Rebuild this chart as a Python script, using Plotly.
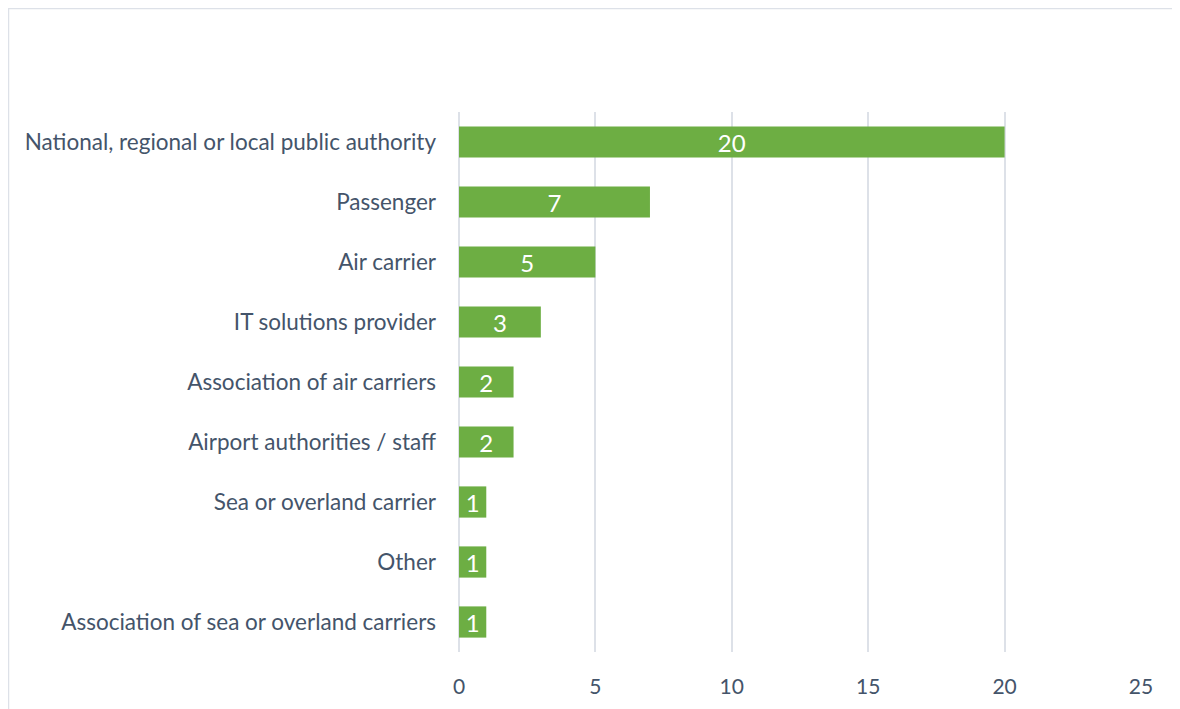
import plotly.graph_objects as go

categories = [
    "National, regional or local public authority",
    "Passenger",
    "Air carrier",
    "IT solutions provider",
    "Association of air carriers",
    "Airport authorities / staff",
    "Sea or overland carrier",
    "Other",
    "Association of sea or overland carriers",
]
values = [20, 7, 5, 3, 2, 2, 1, 1, 1]
x_ticks = [0, 5, 10, 15, 20, 25]

# page has an 8px body margin; figure is offset by (8, 8)
OFF = 8
W, H = 1172, 701
L, R, T, B = 459 - OFF, 39, 112 - OFF, 57
pw, ph = W - L - R, H - T - B

def px_to_paper_x(px):
    return (px - OFF - L) / pw

def py_to_paper_y(py):
    return (H - B - (py - OFF)) / ph

fig = go.Figure(go.Bar(
    y=categories,
    x=values,
    orientation="h",
    marker=dict(color="#6DAE43", line=dict(width=0)),
    width=0.52,
    text=[str(v) for v in values],
    textposition="inside",
    textangle=0,
    insidetextanchor="middle",
    textfont=dict(color="white", size=24, family="Lato"),
))

fig.update_layout(
    width=W, height=H,
    margin=dict(l=L, r=R, t=T, b=B),
    plot_bgcolor="white", paper_bgcolor="white",
    showlegend=False,
    uniformtext=dict(minsize=24, mode="show"),
    font=dict(family="Lato", color="#44546A", size=22.5),
    xaxis=dict(
        range=[0, 25], tickvals=x_ticks, showgrid=True,
        gridcolor="#DDE1E8", gridwidth=1.5, zeroline=True,
        zerolinecolor="#DDE1E8", zerolinewidth=1.5,
        showline=False, ticklabelstandoff=20,
        tickfont=dict(size=21, color="#44546A"),
    ),
    yaxis=dict(
        autorange="reversed", showgrid=False, showline=False,
        ticklabelstandoff=22, tickfont=dict(size=22.5, color="#44546A"),
    ),
    shapes=[dict(
        type="rect", xref="paper", yref="paper",
        x0=px_to_paper_x(8.5), x1=px_to_paper_x(1195),
        y0=py_to_paper_y(730), y1=py_to_paper_y(8.5),
        line=dict(color="#DDE1E8", width=1.5), fillcolor="rgba(0,0,0,0)",
        layer="below",
    )],
)

fig.write_html("out.html")
